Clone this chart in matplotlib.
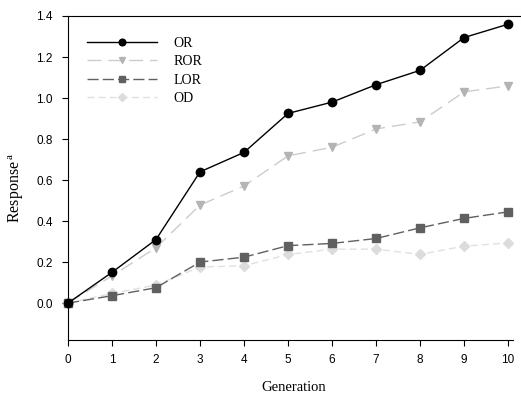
import matplotlib
matplotlib.use("Agg")
import matplotlib.pyplot as plt

plt.rcParams['mathtext.fontset'] = 'custom'
plt.rcParams['mathtext.rm'] = 'Liberation Serif'

generations = list(range(11))
or_vals = [0.0, 0.15, 0.31, 0.64, 0.735, 0.925, 0.98, 1.065, 1.135, 1.295, 1.36]
ror_vals = [0.0, 0.133, 0.27, 0.478, 0.571, 0.718, 0.76, 0.849, 0.884, 1.03, 1.059]
lor_vals = [0.0, 0.036, 0.075, 0.20, 0.224, 0.28, 0.291, 0.315, 0.367, 0.413, 0.445]
od_vals = [0.0, 0.047, 0.088, 0.176, 0.182, 0.237, 0.263, 0.263, 0.237, 0.278, 0.293]

fig = plt.figure(figsize=(5.21, 3.94), dpi=100)
ax = fig.add_axes([68 / 521, 1 - 340 / 394, 452 / 521, 324 / 394])

ax.plot(generations, or_vals, color='black', lw=1.0, marker='o', ms=6,
        mfc='black', mec='black', label='OR', clip_on=False, zorder=5)
ax.plot(generations, ror_vals, color='#cccccc', lw=1.0, dashes=(10, 5),
        marker='v', ms=6, mfc='#b4b4b4', mec='#b4b4b4', label='ROR', clip_on=False, zorder=3)
ax.plot(generations, lor_vals, color='#606060', lw=1.0, dashes=(8, 3),
        marker='s', ms=5.5, mfc='#606060', mec='#606060', label='LOR', clip_on=False, zorder=4)
ax.plot(generations, od_vals, color='#e0e0e0', lw=1.0, dashes=(5, 3),
        marker='D', ms=5.5, mfc='#dcdcdc', mec='#dcdcdc', label='OD', clip_on=False, zorder=2)

ax.set_xlim(0, 10.27)
ax.set_ylim(-0.18, 1.4)
ax.set_xticks(generations)
ax.set_yticks([0.0, 0.2, 0.4, 0.6, 0.8, 1.0, 1.2, 1.4])
ax.set_yticklabels(['0.0', '0.2', '0.4', '0.6', '0.8', '1.0', '1.2', '1.4'])
ax.tick_params(direction='out', length=4, width=0.8, labelsize=8.5)
ax.tick_params(axis='y', pad=7)
ax.tick_params(axis='x', pad=6)
for lab in ax.get_xticklabels() + ax.get_yticklabels():
    lab.set_family('Liberation Sans')

ax.spines['right'].set_visible(False)
ax.spines['bottom'].set_bounds(0, 10.12)

ax.set_xlabel('Generation', family='Liberation Serif', fontsize=10.5, labelpad=11)
ax.set_ylabel('Response$^{\\,\\rm a}$', family='Liberation Serif', fontsize=11.5)
ax.yaxis.set_label_coords(-0.093, 0.47)

ax.legend(loc='upper left', bbox_to_anchor=(0.015, 0.975), frameon=False,
          handlelength=5, handletextpad=1.2, labelspacing=0.4, markerscale=0.8,
          prop={'family': 'Liberation Serif', 'size': 10})

fig.savefig('out.png', dpi=100)
